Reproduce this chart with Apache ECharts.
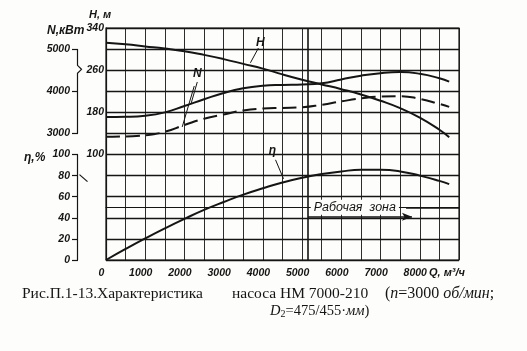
<!DOCTYPE html>
<html>
<head>
<meta charset="utf-8">
<script src="https://cdn.jsdelivr.net/npm/echarts@6/dist/echarts.min.js"></script>
<style>
  html, body { margin: 0; padding: 0; background: #fdfdfb; }
  #chart { width: 527px; height: 351px; }
</style>
</head>
<body>
<div id="chart"></div>
<script>
// подача Q, м3/ч
var flow = [0, 500, 1000, 1500, 2000, 2500, 3000, 3500, 4000, 4500, 5000, 5500, 6000, 6500, 7000, 7500, 8000, 8500, 8750];
// напор H, м
var head = [312, 309, 305, 301, 296, 289, 281, 272, 263, 252, 242, 233, 224, 214, 202, 188, 170, 147, 133];
// мощность N, кВт (сплошная и штриховая)
var powerSolid = [3390, 3395, 3420, 3500, 3650, 3810, 3960, 4070, 4130, 4150, 4160, 4190, 4280, 4370, 4430, 4455, 4415, 4310, 4230];
var powerDashed = [2920, 2930, 2955, 3040, 3200, 3350, 3450, 3545, 3590, 3605, 3620, 3680, 3760, 3830, 3875, 3885, 3820, 3700, 3630];
// КПД, %
var eff = [0, 10.5, 20.5, 30, 39, 47.5, 55, 62, 68, 73.5, 78, 81.5, 84, 85.5, 85.5, 84, 80, 75, 72];

var qTicks = [0, 1000, 2000, 3000, 4000, 5000, 6000, 7000, 8000];
var hTicks = [340, 260, 180, 100];
var nTicks = [3000, 4000, 5000];
var etaTicks = [0, 20, 40, 60, 80, 100];

var zoneStart = 5150; // граница рабочей зоны

function pairs(ys) {
  return flow.map(function (q, i) { return [q, ys[i]]; });
}
function plain(v) { return String(v); }

var ink = '#151515';
var paper = '#fdfdfb';
var sans = '"Liberation Sans", Arial, sans-serif';
var tickFont = { fontFamily: sans, fontStyle: 'italic', fontWeight: 'bold', fontSize: 10.5, color: ink, formatter: plain };

var chart = echarts.init(document.getElementById('chart'));

var option = {
  backgroundColor: paper,
  animation: false,
  grid: { left: 106, right: 68, top: 28, bottom: 91, show: true, borderColor: ink, borderWidth: 1.2 },
  xAxis: {
    type: 'value', min: 0, max: 9000, interval: 500,
    axisLine: { lineStyle: { color: ink, width: 1.2 } },
    axisTick: { show: false },
    splitLine: { lineStyle: { color: ink, width: 0.9 } },
    axisLabel: Object.assign({ customValues: qTicks, margin: 8, padding: [0, 9, 0, 0] }, tickFont)
  },
  yAxis: [
    { // H
      type: 'value', min: -100, max: 340, interval: 40, position: 'left',
      axisLine: { show: true, lineStyle: { color: ink, width: 1.2 } },
      axisTick: { show: false },
      splitLine: { lineStyle: { color: ink, width: 1.4 } },
      axisLabel: Object.assign({ customValues: hTicks, margin: 2 }, tickFont)
    },
    { // N
      type: 'value', min: 0, max: 5500, interval: 500, position: 'left', offset: 28,
      axisLine: { show: false },
      axisTick: { show: true, customValues: nTicks, length: 6, lineStyle: { color: ink, width: 1.2 } },
      splitLine: { show: false },
      axisLabel: Object.assign({ customValues: nTicks, margin: 8 }, tickFont)
    },
    { // η
      type: 'value', min: 0, max: 220, interval: 20, position: 'left', offset: 28,
      axisLine: { show: false },
      axisTick: { show: true, customValues: etaTicks, length: 6, lineStyle: { color: ink, width: 1.2 } },
      splitLine: { show: false },
      axisLabel: Object.assign({ customValues: etaTicks, margin: 8 }, tickFont)
    }
  ],
  series: [
    {
      name: 'H', type: 'line', yAxisIndex: 0, smooth: true, showSymbol: false,
      lineStyle: { color: ink, width: 2 }, data: pairs(head)
    },
    {
      name: 'N', type: 'line', yAxisIndex: 1, smooth: true, showSymbol: false,
      lineStyle: { color: ink, width: 2 }, data: pairs(powerSolid)
    },
    {
      name: 'N2', type: 'line', yAxisIndex: 1, smooth: true, showSymbol: false,
      lineStyle: { color: ink, width: 2, type: [14, 6] }, data: pairs(powerDashed)
    },
    {
      name: 'η', type: 'line', yAxisIndex: 2, smooth: true, showSymbol: false,
      lineStyle: { color: ink, width: 2 }, data: pairs(eff),
      markLine: {
        silent: true, animation: false,
        label: { show: false },
        lineStyle: { color: ink, width: 1.6, type: 'solid' },
        data: [
          [{ coord: [zoneStart, 0], symbol: 'none' }, { coord: [zoneStart, 220], symbol: 'none' }],
          [{ coord: [zoneStart, 41], symbol: 'none' }, { coord: [7800, 41], symbol: 'arrow', symbolSize: [6, 10] }],
          [{ coord: [7650, 50], symbol: 'none' }, { coord: [9000, 50], symbol: 'none' }]
        ]
      }
    }
  ]
};
chart.setOption(option);

// подписи и скобки через пересчёт координат осей
function px(axis, q, v) {
  return chart.convertToPixel({ xAxisIndex: 0, yAxisIndex: axis }, [q, v]);
}
function seg(a, b, w) {
  return { type: 'polyline', silent: true, z: 10, shape: { points: [a, b] }, style: { stroke: ink, lineWidth: w || 1.2, fill: null } };
}
function label(x, y, t, font, align, bg) {
  var st = { text: t, font: font, fill: ink, align: align || 'left', verticalAlign: 'middle' };
  if (bg) { st.backgroundColor = paper; st.padding = [1, 3, 1, 3]; }
  return { type: 'text', silent: true, z: 10, x: x, y: y, style: st };
}

var italic = 'italic bold 12px ' + sans;
var g = [];

// скобка N
var n5 = px(1, 0, 5000), n3 = px(1, 0, 3000), nMid = px(1, 0, 4520);
var bx = n5[0] - 28 - 0.5;
g.push({ type: 'polyline', silent: true, shape: { points: [[bx, n5[1]], [bx, nMid[1] - 4], [bx + 4, nMid[1]], [bx, nMid[1] + 4], [bx, n3[1]]] }, style: { stroke: ink, lineWidth: 1.2, fill: null } });
// скобка η
var e100 = px(2, 0, 100), e0 = px(2, 0, 0), e80 = px(2, 0, 80);
g.push(seg([bx, e100[1]], [bx, e0[1]]));
g.push(seg([bx + 2, e80[1] - 1], [bx + 10, e80[1] + 6]));

// названия осей
g.push(label(47, 31, 'N,кВт', italic));
g.push(label(89, 15, 'H, м', 'italic bold 11px ' + sans));
g.push(label(24, 158, 'η,%', italic));
g.push(label(429, 273, 'Q, м³/ч', 'italic bold 11px ' + sans));

// обозначения кривых
var hL = px(0, 3938, 313);
g.push(label(hL[0], hL[1], 'H', italic, 'center'));
g.push(seg(px(0, 3886, 302), px(0, 3682, 274), 1));
var nL = px(1, 2327, 4410);
g.push(label(nL[0], nL[1], 'N', italic, 'center'));
g.push(seg(px(1, 2327, 4220), px(1, 2174, 3723), 1));
g.push(seg(px(1, 2250, 4125), px(1, 1943, 3154), 1));
var eL = px(2, 4245, 104);
g.push(label(eL[0], eL[1], 'η', italic, 'center'));
g.push(seg(px(2, 4322, 95), px(2, 4526, 77), 1));

var zL = px(2, 5220, 50);
g.push(label(zL[0], zL[1], 'Рабочая  зона', 'italic 12.5px ' + sans, 'left', true));

// подпись рисунка
var serif = '"Liberation Serif", "Times New Roman", serif';
g.push(label(22, 294, 'Рис.П.1-13.Характеристика', '15.5px ' + serif));
g.push(label(232, 294, 'насоса НМ 7000-210', '15.5px ' + serif));
g.push({
  type: 'text', silent: true, x: 385, y: 294,
  style: {
    text: '({i|n}=3000 {i|об/мин};',
    font: '16px ' + serif, fill: ink, verticalAlign: 'middle',
    rich: { i: { font: 'italic 16px ' + serif, fill: ink } }
  }
});
g.push({
  type: 'text', silent: true, x: 270, y: 311,
  style: {
    text: '{i|D}{s|2}=475/455·{i|мм})',
    font: '14.5px ' + serif, fill: ink, verticalAlign: 'middle',
    rich: {
      i: { font: 'italic 14.5px ' + serif, fill: ink },
      s: { font: '10px ' + serif, fill: ink, padding: [6, 0, 0, 0] }
    }
  }
});

chart.setOption({ graphic: g });
</script>
</body>
</html>
